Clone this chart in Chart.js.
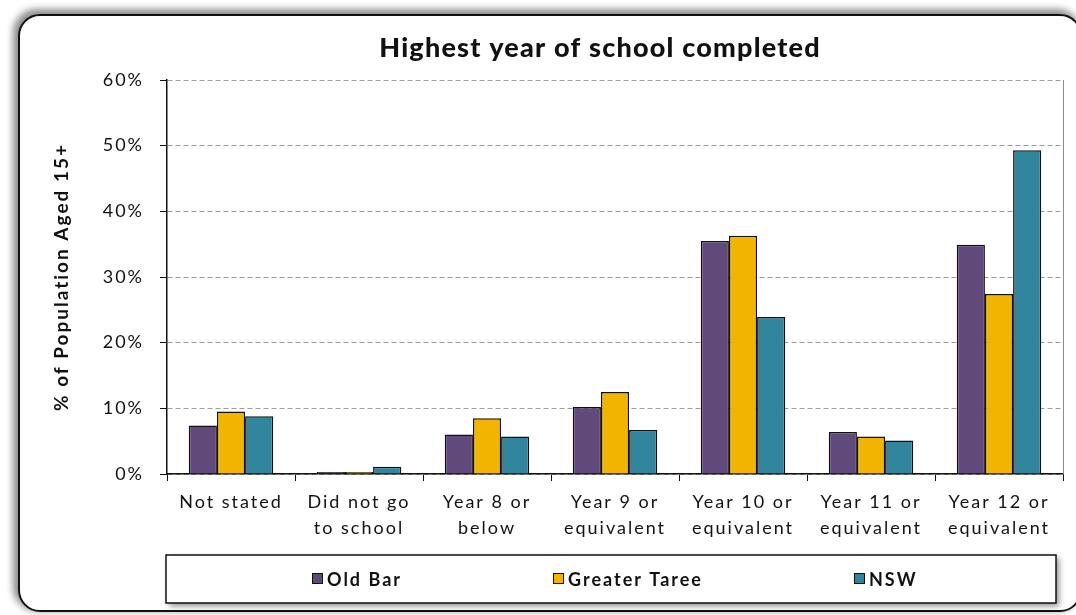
<!DOCTYPE html>
<html>
<head>
<meta charset="utf-8">
<script src="https://cdn.jsdelivr.net/npm/chart.js@4/dist/chart.umd.min.js"></script>
<style>
  html, body { margin: 0; padding: 0; background: #fff; overflow: hidden; }
  #wrap { position: relative; width: 1076px; height: 615px; }
  #frame {
    position: absolute; left: 18px; top: 14px; width: 1064px; height: 598px;
    border: 2px solid #111; border-radius: 22px; box-sizing: border-box;
    box-shadow: -3px -3px 7px 2px rgba(0,0,0,0.45);
    background: #fff;
  }
  #chartBox { position: absolute; left: 0; top: 0; width: 1076px; height: 615px; }
</style>
</head>
<body>
<div id="wrap">
  <div id="frame"></div>
  <div id="chartBox"><canvas id="schoolChart"></canvas></div>
</div>
<script>
const chartTitle = "Highest year of school completed";
const categories = [
  "Not stated",
  ["Did not go", "to school"],
  ["Year 8 or", "below"],
  ["Year 9 or", "equivalent"],
  ["Year 10 or", "equivalent"],
  ["Year 11 or", "equivalent"],
  ["Year 12 or", "equivalent"]
];
const oldBar       = [7.4, 0.3, 6.0, 10.2, 35.5, 6.4, 34.9];
const greaterTaree = [9.5, 0.3, 8.5, 12.5, 36.3, 5.7, 27.4];
const nsw          = [8.8, 1.1, 5.7, 6.7, 23.9, 5.1, 49.3];
const seriesNames  = ["Old Bar", "Greater Taree", "NSW"];
const seriesColors = ["#604A7B", "#F2B400", "#31859C"];
const yTicks = [0, 10, 20, 30, 40, 50, 60];

const FONT = "Lato, 'Open Sans', sans-serif";

// wide letter spacing for all canvas text; title and boxed legend drawn on top
const chartDecor = {
  id: "chartDecor",
  beforeDraw(chart) {
    chart.ctx.letterSpacing = "2px";
  },
  afterDraw(chart) {
    const ctx = chart.ctx;
    const area = chart.chartArea;
    ctx.save();

    // right edge of the plot area
    ctx.strokeStyle = "#8c8c8c";
    ctx.lineWidth = 1;
    ctx.beginPath();
    ctx.moveTo(area.right + 0.5, area.top);
    ctx.lineTo(area.right + 0.5, area.bottom);
    ctx.stroke();

    // title
    ctx.letterSpacing = "1.2px";
    ctx.fillStyle = "#111";
    ctx.font = "900 27px " + FONT;
    ctx.textAlign = "center";
    ctx.textBaseline = "middle";
    ctx.fillText(chartTitle, 600, 48);

    // legend box
    const bx = 166, by = 555, bw = 890, bh = 48;
    ctx.shadowColor = "rgba(0,0,0,0.45)";
    ctx.shadowBlur = 6;
    ctx.shadowOffsetX = 3;
    ctx.shadowOffsetY = 3;
    ctx.fillStyle = "#fff";
    ctx.fillRect(bx, by, bw, bh);
    ctx.shadowColor = "transparent";
    ctx.strokeStyle = "#111";
    ctx.lineWidth = 1.5;
    ctx.strokeRect(bx, by, bw, bh);

    ctx.letterSpacing = "2px";
    ctx.font = "bold 18px " + FONT;
    ctx.textAlign = "left";
    let x = 312;
    const cy = by + bh / 2;
    chart.data.datasets.forEach(ds => {
      ctx.fillStyle = ds.backgroundColor;
      ctx.fillRect(x, cy - 6, 11, 11);
      ctx.strokeStyle = "#111";
      ctx.lineWidth = 1;
      ctx.strokeRect(x + 0.5, cy - 5.5, 10, 10);
      ctx.fillStyle = "#111";
      ctx.fillText(ds.label, x + 15, cy + 1);
      x += 15 + ctx.measureText(ds.label).width + 151;
    });
    ctx.restore();
  }
};

new Chart(document.getElementById("schoolChart"), {
  type: "bar",
  data: {
    labels: categories,
    datasets: [oldBar, greaterTaree, nsw].map((vals, i) => ({
      label: seriesNames[i],
      data: vals,
      backgroundColor: seriesColors[i],
      borderColor: "#111",
      borderWidth: 1.5,
      categoryPercentage: 0.66,
      barPercentage: 1.0
    }))
  },
  options: {
    responsive: true,
    maintainAspectRatio: false,
    animation: false,
    layout: { padding: { left: 40, right: 13, top: 80, bottom: 71 } },
    plugins: {
      legend: { display: false },
      tooltip: { enabled: false },
      title: { display: false }
    },
    scales: {
      x: {
        grid: { drawOnChartArea: false, drawTicks: true, tickLength: 7, color: "#111", offset: true },
        border: { color: "#111", width: 1.5 },
        ticks: { color: "#111", padding: 8, maxRotation: 0, autoSkip: false,
                 font: { family: FONT, size: 18, lineHeight: 1.45 } },
        afterFit(scale) { scale.height = 70; }
      },
      y: {
        min: 0,
        max: 60,
        afterBuildTicks(scale) { scale.ticks = yTicks.map(v => ({ value: v })); },
        grid: { color: "#9a9a9a", lineWidth: 1, tickColor: "#111", tickLength: 7 },
        border: { color: "#111", width: 1.5, dash: [5, 3] },
        ticks: { color: "#111", padding: 16, callback: v => v + "%",
                 font: { family: FONT, size: 18 } },
        title: {
          display: true,
          text: "% of Population Aged 15+",
          color: "#111",
          font: { family: FONT, size: 19, weight: "bold" },
          padding: { top: 10, bottom: 0 }
        },
        afterFit(scale) { scale.width = 127; }
      }
    }
  },
  plugins: [chartDecor]
});
</script>
</body>
</html>
